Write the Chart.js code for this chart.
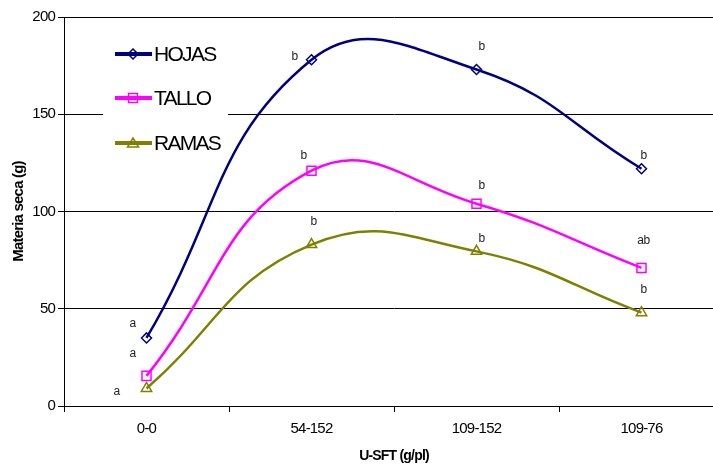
<!DOCTYPE html>
<html>
<head>
<meta charset="utf-8">
<script src="https://cdn.jsdelivr.net/npm/chart.js@4.4.1/dist/chart.umd.min.js"></script>
<style>
    html, body { margin: 0; padding: 0; background: #fff; overflow: hidden; }
    #wrap { width: 713px; height: 468px; overflow: hidden; }
    canvas { display: block; }
</style>
</head>
<body>
<div id="wrap"><canvas id="chartCanvas" width="740" height="468"></canvas></div>
<script>
const categories = ['0-0', '54-152', '109-152', '109-76'];
const seriesNames = ['HOJAS', 'TALLO', 'RAMAS'];
const hojas = [35, 178, 173, 122];
const tallo = [15.5, 121, 104, 71];
const ramas = [9, 83, 79.5, 48];
const hojasLetters = ['a', 'b', 'b', 'b'];
const talloLetters = ['a', 'b', 'b', 'ab'];
const ramasLetters = ['a', 'b', 'b', 'b'];
const yTicks = [0, 50, 100, 150, 200];

// where each letter sits relative to its point (px)
const letterOffsets = [
    [[-14, -14], [-17, -3], [5, -23], [2, -13]],
    [[-14, -22], [-8, -15], [5, -18], [2, -27]],
    [[-30, 3], [2, -23], [5, -13], [2, -23]]
];
const allLetters = [hojasLetters, talloLetters, ramasLetters];

const colors = ['#000080', '#ff00ff', '#808000'];
const pointStyles = ['rectRot', 'rect', 'triangle'];
const FONT = "'Liberation Sans', Arial, sans-serif";

const spacingPlugin = {
    id: 'spacing',
    beforeUpdate: (chart) => { chart.ctx.letterSpacing = '-0.8px'; },
    beforeDraw: (chart) => { chart.ctx.letterSpacing = '-0.8px'; }
};

const drawMarker = (ctx, style, x, y, color) => {
    ctx.save();
    ctx.strokeStyle = color;
    ctx.lineWidth = 1.5;
    ctx.beginPath();
    if (style === 'rectRot') {
        ctx.moveTo(x, y - 5); ctx.lineTo(x + 5, y); ctx.lineTo(x, y + 5); ctx.lineTo(x - 5, y); ctx.closePath();
    } else if (style === 'rect') {
        ctx.rect(x - 4.5, y - 4.5, 9, 9);
    } else {
        ctx.moveTo(x, y - 5); ctx.lineTo(x + 5.5, y + 4); ctx.lineTo(x - 5.5, y + 4); ctx.closePath();
    }
    ctx.stroke();
    ctx.restore();
};

const legendPlugin = {
    id: 'boxLegend',
    beforeDatasetsDraw: (chart) => {
        const ctx = chart.ctx;
        ctx.save();
        ctx.fillStyle = '#fff';
        ctx.fillRect(103, 30, 125, 130);
        const rows = [54, 98, 143];
        chart.data.datasets.forEach((ds, i) => {
            const y = rows[i];
            ctx.strokeStyle = ds.borderColor;
            ctx.lineWidth = 4;
            ctx.beginPath();
            ctx.moveTo(115, y);
            ctx.lineTo(152, y);
            ctx.stroke();
            drawMarker(ctx, ds.pointStyle, 133, y, ds.borderColor);
            ctx.fillStyle = '#000';
            ctx.font = '21px ' + FONT;
            ctx.letterSpacing = '-1.7px';
            ctx.textAlign = 'left';
            ctx.textBaseline = 'middle';
            ctx.fillText(ds.label, 154, y + 1);
        });
        ctx.restore();
    }
};

const lettersPlugin = {
    id: 'letters',
    afterDatasetsDraw: (chart) => {
        const ctx = chart.ctx;
        ctx.save();
        ctx.fillStyle = '#222';
        ctx.font = '12px ' + FONT;
        ctx.letterSpacing = '-0.5px';
        ctx.textAlign = 'center';
        ctx.textBaseline = 'middle';
        chart.data.datasets.forEach((ds, i) => {
            const meta = chart.getDatasetMeta(i);
            meta.data.forEach((pt, j) => {
                const off = letterOffsets[i][j];
                ctx.fillText(allLetters[i][j], pt.x + off[0], pt.y + off[1]);
            });
        });
        ctx.restore();
    }
};

const makeSet = (label, data, i) => ({
    label: label,
    data: data,
    borderColor: colors[i],
    backgroundColor: 'rgba(0,0,0,0)',
    borderWidth: 2.5,
    tension: 0.45,
    pointStyle: pointStyles[i],
    pointRadius: pointStyles[i] === 'rect' ? 6.4 : (pointStyles[i] === 'triangle' ? 6 : 5),
    pointBorderWidth: 1.5,
    pointBorderColor: colors[i],
    pointBackgroundColor: 'rgba(0,0,0,0)'
});

const chartCanvas = document.getElementById('chartCanvas');
new Chart(chartCanvas, {
    type: 'line',
    data: {
        labels: categories,
        datasets: [
            makeSet(seriesNames[0], hojas, 0),
            makeSet(seriesNames[1], tallo, 1),
            makeSet(seriesNames[2], ramas, 2)
        ]
    },
    options: {
        responsive: false,
        animation: false,
        devicePixelRatio: 1,
        layout: { padding: { top: 17, right: 16, left: 0, bottom: 0 } },
        plugins: {
            legend: { display: false },
            tooltip: { enabled: false }
        },
        scales: {
            x: {
                offset: true,
                grid: { offset: true, drawOnChartArea: false, drawTicks: true, tickLength: 6, color: '#000' },
                border: { color: '#000', width: 1 },
                ticks: { color: '#000', font: { family: FONT, size: 15 }, padding: 8, maxRotation: 0 },
                title: {
                    display: true, text: 'U-SFT (g/pl)', color: '#000',
                    font: { family: FONT, size: 14, weight: 'bold' },
                    padding: { top: 0, bottom: 3 }
                },
                afterFit: (s) => { s.height = 62; }
            },
            y: {
                min: 0,
                max: 200,
                afterBuildTicks: (s) => { s.ticks = yTicks.map(v => ({ value: v })); },
                grid: { color: '#000', lineWidth: 1, tickLength: 6 },
                border: { color: '#000', width: 1 },
                ticks: { color: '#000', font: { family: FONT, size: 15 }, padding: 3 },
                title: {
                    display: true, text: 'Materia seca (g)', color: '#000',
                    font: { family: FONT, size: 15, weight: 'bold' },
                    padding: { top: 10, bottom: 0 }
                },
                afterFit: (s) => { s.width = 64; }
            }
        }
    },
    plugins: [spacingPlugin, legendPlugin, lettersPlugin]
});
</script>
</body>
</html>
